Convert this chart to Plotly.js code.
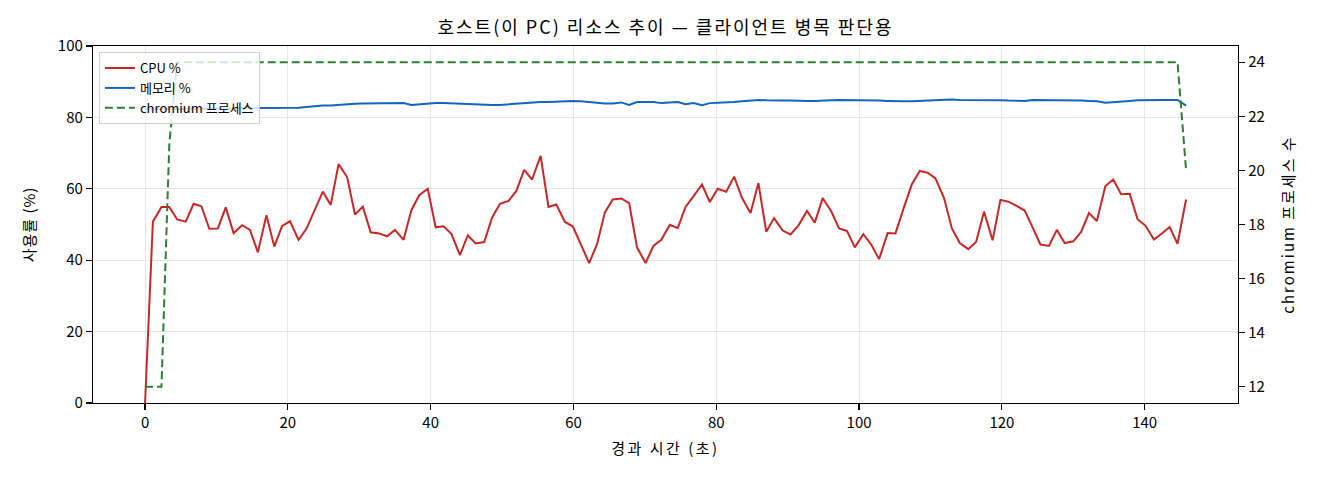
<!DOCTYPE html>
<html>
<head>
<meta charset="utf-8">
<script src="https://cdn.plot.ly/plotly-3.0.1.min.js"></script>
<style>
  html, body { margin: 0; padding: 0; background: #fff; }
  #chart { width: 1320px; height: 480px; }
  /* the source chart uses a wider Korean face; widen text to match */
  #chart .gtitle { letter-spacing: 2px; }
  #chart .xtitle { letter-spacing: 2.5px; }
  #chart .ytitle { letter-spacing: 1px; }
  #chart .y2title { letter-spacing: 2px; }
</style>
</head>
<body>
<div id="chart"></div>
<script>
"use strict";
// elapsed time of each sample (seconds)
var elapsed = [
  0, 1.1, 2.3, 3.4, 4.5, 5.7, 6.8, 7.9, 9.0, 10.2,
  11.3, 12.4, 13.6, 14.7, 15.8, 17.0, 18.1, 19.2, 20.3, 21.5,
  22.6, 23.7, 24.9, 26.0, 27.1, 28.3, 29.4, 30.5, 31.6, 32.8,
  33.9, 35.0, 36.2, 37.3, 38.4, 39.6, 40.7, 41.8, 42.9, 44.1,
  45.2, 46.3, 47.5, 48.6, 49.7, 50.9, 52.0, 53.1, 54.2, 55.4,
  56.5, 57.6, 58.8, 59.9, 61.0, 62.2, 63.3, 64.4, 65.5, 66.7,
  67.8, 68.9, 70.1, 71.2, 72.3, 73.5, 74.6, 75.7, 76.8, 78.0,
  79.1, 80.2, 81.4, 82.5, 83.6, 84.8, 85.9, 87.0, 88.1, 89.3,
  90.4, 91.5, 92.7, 93.8, 94.9, 96.1, 97.2, 98.3, 99.4, 100.6,
  101.7, 102.8, 104.0, 105.1, 106.2, 107.4, 108.5, 109.6, 110.7, 111.9,
  113.0, 114.1, 115.3, 116.4, 117.5, 118.7, 119.8, 120.9, 122.0, 123.2,
  124.3, 125.4, 126.6, 127.7, 128.8, 130.0, 131.1, 132.2, 133.3, 134.5,
  135.6, 136.7, 137.9, 139.0, 140.1, 141.3, 142.4, 143.5, 144.6, 145.8
];

// CPU usage (%)
var cpuPct = [
  0, 50.8, 54.9, 54.9, 51.4, 50.8, 55.8, 55.1, 48.8, 48.9,
  54.8, 47.6, 49.8, 48.5, 42.2, 52.6, 43.8, 49.6, 50.9, 45.7,
  48.8, 53.7, 59.2, 55.5, 66.9, 63.3, 52.8, 55.0, 47.8, 47.5,
  46.7, 48.5, 45.7, 54.0, 58.2, 60.0, 49.2, 49.5, 47.4, 41.4,
  47.0, 44.7, 45.1, 51.9, 55.8, 56.6, 59.4, 65.3, 62.6, 69.2,
  54.9, 55.6, 50.7, 49.5, 44.7, 39.2, 44.5, 53.4, 57.0, 57.3,
  56.0, 43.6, 39.2, 44.0, 45.7, 49.9, 49.0, 54.9, 57.9, 61.2,
  56.3, 60.0, 59.2, 63.4, 57.5, 53.2, 61.6, 48.0, 51.8, 48.3,
  47.2, 49.7, 53.8, 50.5, 57.4, 53.7, 48.9, 48.2, 43.6, 47.3,
  44.4, 40.3, 47.6, 47.5, 54.3, 61.3, 65.0, 64.5, 62.9, 57.4,
  48.9, 44.8, 43.1, 45.2, 53.6, 45.6, 56.9, 56.4, 55.3, 53.9,
  49.2, 44.4, 44.0, 48.5, 44.8, 45.3, 47.9, 53.2, 51.0, 60.8,
  62.6, 58.5, 58.6, 51.5, 49.7, 45.8, 47.5, 49.3, 44.6, 57.0
];

// memory usage (%)
var memPct = [
  82.3, 82.3, 82.4, 82.4, 82.4, 82.4, 82.5, 82.5, 82.5, 82.5,
  82.5, 82.5, 82.6, 82.6, 82.6, 82.6, 82.6, 82.7, 82.7, 82.7,
  82.9, 83.1, 83.3, 83.3, 83.5, 83.7, 83.8, 83.9, 83.9, 83.8,
  83.8, 83.9, 84.0, 83.5, 83.7, 83.9, 84.0, 84.0, 83.9, 83.9,
  83.8, 83.7, 83.6, 83.5, 83.5, 83.7, 83.9, 84.0, 84.2, 84.3,
  84.3, 84.4, 84.5, 84.6, 84.5, 84.4, 84.1, 83.9, 83.9, 84.2,
  83.5, 84.3, 84.3, 84.3, 84.0, 84.2, 84.3, 83.7, 84.0, 83.4,
  84.0, 84.1, 84.1, 84.3, 84.5, 84.8, 84.9, 84.8, 84.7, 84.7,
  84.7, 84.6, 84.6, 84.6, 84.6, 84.8, 84.9, 84.9, 84.9, 84.9,
  84.8, 84.7, 84.6, 84.5, 84.5, 84.5, 84.6, 84.7, 84.8, 85.0,
  85.0, 84.9, 84.9, 85.0, 85.0, 84.9, 84.8, 84.7, 84.6, 84.6,
  84.9, 84.9, 84.8, 84.8, 84.8, 84.7, 84.7, 84.6, 84.5, 84.1,
  84.2, 84.3, 84.6, 84.8, 84.9, 84.9, 84.9, 84.9, 84.9, 83.3
];

// number of chromium processes
var chromiumProcs = [
  12, 12, 12, 21, 24, 24, 24, 24, 24, 24,
  24, 24, 24, 24, 24, 24, 24, 24, 24, 24,
  24, 24, 24, 24, 24, 24, 24, 24, 24, 24,
  24, 24, 24, 24, 24, 24, 24, 24, 24, 24,
  24, 24, 24, 24, 24, 24, 24, 24, 24, 24,
  24, 24, 24, 24, 24, 24, 24, 24, 24, 24,
  24, 24, 24, 24, 24, 24, 24, 24, 24, 24,
  24, 24, 24, 24, 24, 24, 24, 24, 24, 24,
  24, 24, 24, 24, 24, 24, 24, 24, 24, 24,
  24, 24, 24, 24, 24, 24, 24, 24, 24, 24,
  24, 24, 24, 24, 24, 24, 24, 24, 24, 24,
  24, 24, 24, 24, 24, 24, 24, 24, 24, 24,
  24, 24, 24, 24, 24, 24, 24, 24, 24, 20
];

var FONT = '"Noto Sans CJK KR", "Noto Sans", sans-serif';
var GRID = '#e6e6e6';

var traces = [
  {
    name: 'CPU %',
    x: elapsed, y: cpuPct,
    type: 'scatter', mode: 'lines',
    line: { color: '#c62828', width: 2 }
  },
  {
    name: '메모리 %',
    x: elapsed, y: memPct,
    type: 'scatter', mode: 'lines',
    line: { color: '#1565c0', width: 2 }
  },
  {
    name: 'chromium 프로세스',
    x: elapsed, y: chromiumProcs, yaxis: 'y2',
    type: 'scatter', mode: 'lines',
    line: { color: '#2e7d32', width: 2, dash: '8px,4px' }
  }
];

var axisCommon = {
  showline: true, linecolor: '#000', linewidth: 1.2,
  ticks: 'outside', ticklen: 6, tickwidth: 1.2, tickcolor: '#000',
  zeroline: false,
  tickfont: { family: FONT, size: 15, color: '#000' }
};

var layout = {
  width: 1320, height: 480,
  paper_bgcolor: '#fff', plot_bgcolor: '#fff',
  margin: { l: 93, r: 82, t: 46, b: 77 },
  font: { family: FONT, color: '#000' },
  title: {
    text: '호스트(이 PC) 리소스 추이 — 클라이언트 병목 판단용',
    font: { family: FONT, size: 18, color: '#000' },
    xref: 'paper', x: 0.5, xanchor: 'center',
    yref: 'container', y: 1 - 28 / 480, yanchor: 'middle'
  },
  xaxis: Object.assign({}, axisCommon, {
    range: [-7.29, 153.07],
    tick0: 0, dtick: 20,
    mirror: true,
    showgrid: true, gridcolor: GRID, gridwidth: 1,
    title: { text: '경과 시간 (초)', font: { family: FONT, size: 15, color: '#000' }, standoff: 12 }
  }),
  yaxis: Object.assign({}, axisCommon, {
    range: [0, 100],
    tick0: 0, dtick: 20,
    showgrid: true, gridcolor: GRID, gridwidth: 1,
    title: { text: '사용률 (%)', font: { family: FONT, size: 15, color: '#000' }, standoff: 18 }
  }),
  yaxis2: Object.assign({}, axisCommon, {
    overlaying: 'y', side: 'right',
    range: [11.4, 24.6],
    tick0: 12, dtick: 2,
    showgrid: false,
    title: { text: 'chromium 프로세스 수', font: { family: FONT, size: 15, color: '#000' }, standoff: 19 }
  }),
  showlegend: true,
  legend: {
    x: 0.0052, y: 0.983, xanchor: 'left', yanchor: 'top',
    bgcolor: 'rgba(255,255,255,0.8)',
    bordercolor: '#d0d0d0', borderwidth: 1,
    font: { family: FONT, size: 13, color: '#000' },
    tracegroupgap: 0
  }
};

Plotly.newPlot('chart', traces, layout, { staticPlot: true, displayModeBar: false });
</script>
</body>
</html>
